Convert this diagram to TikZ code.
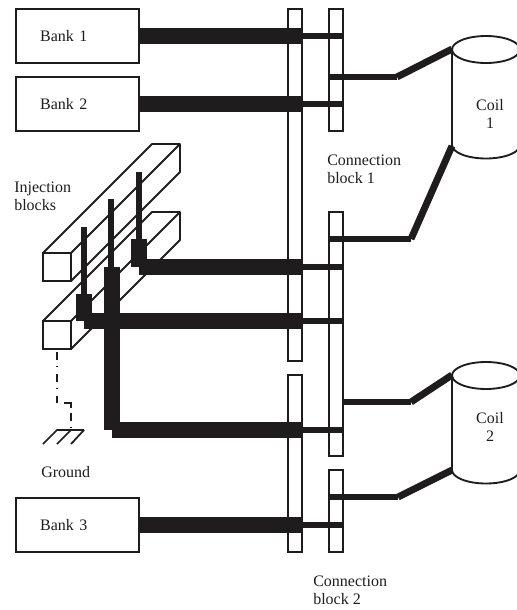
\documentclass[tikz,border=0pt]{standalone}
\usepackage{fontspec}
\setmainfont{Liberation Serif}
\definecolor{ink}{HTML}{1E1C1D}
\tikzset{
  bank/.style={draw=ink, line width=1.5pt, text=ink, text width=56pt, inner xsep=18pt, minimum height=40.5pt, align=left, outer sep=0pt, font=\fontsize{12}{13.4}\selectfont},
  lbl/.style={text=ink, align=left, inner sep=0pt, font=\fontsize{12}{13.4}\selectfont},
  outline/.style={draw=ink, line width=1.4pt},
  heavy/.style={ink, line width=12pt},
  light/.style={ink, line width=4.5pt},
  lead/.style={ink, line width=4.5pt, line join=round},
  pin/.style={ink, line width=4.5pt},
  pad/.style={ink, line width=12pt},
  earth/.style={ink, line width=1.3pt, dash pattern=on 6pt off 4.5pt on 1pt off 5pt},
  hatch/.style={ink, line width=1.3pt}
}
\begin{document}
\begin{tikzpicture}[x=0.75pt, y=-0.75pt]
  \useasboundingbox (0,0) rectangle (517,610);

  % connection bars
  \draw[outline] (288,9) rectangle (302,361);
  \draw[outline] (288,375) rectangle (302,552);
  \draw[outline] (329,9) rectangle (343,131);
  \draw[outline] (329,212) rectangle (343,456);
  \draw[outline] (329,470) rectangle (343,552);
  \coordinate (barA) at (302,0);
  \coordinate (barB) at (343,0);

  % banks
  \node[bank] (bank1) at (77.5,36) {Bank 1};
  \node[bank] (bank2) at (77.5,104) {Bank 2};
  \node[bank] (bank3) at (77.5,525) {Bank 3};
  \foreach \b in {bank1,bank2,bank3} {
    \draw[heavy] (\b.east) -- ++(163,0);
    \draw[light] (\b.east) ++(163,0) -- ++(41,0);
  }

  % injection blocks
  \foreach \y in {253,321} {
    \draw[outline] (43,\y) rectangle (71,\y+28);
    \draw[outline, line join=round] (43,\y) -- (152,\y-109) -- (180,\y-109) -- (180,\y-81) -- (71,\y+28);
    \draw[outline] (71,\y) -- (180,\y-109);
  }

  % pins and feeds
  \coordinate (feed1) at (84,321);
  \coordinate (feed2) at (111.5,430);
  \coordinate (feed3) at (139,267);
  \draw[pin] (84,227) -- (84,294);
  \draw[pin] (111,199) -- (111,267);
  \draw[pin] (139,172) -- (139,239);
  \draw[pad] (84,294) -- (feed1);
  \draw[pad] (111.5,267) -- (feed2);
  \draw[pad] (139,239) -- (feed3);
  \draw[heavy] (84,321) -- (84,321 -| barA);
  \draw[heavy] (139,267) -- (139,267 -| barA);
  \draw[heavy] (112,430) -- (112,430 -| barA);
  \draw[light] (302,267) -- (barB |- 0,267);
  \draw[light] (302,321) -- (barB |- 0,321);
  \draw[light] (302,430) -- (barB |- 0,430);

  % coils
  \draw[outline] (486,49.5) ellipse (34 and 13.5);
  \draw[outline] (452,49.5) -- (452,145);
  \draw[outline] (452,145) arc[start angle=180, end angle=0, x radius=34, y radius=13.5];
  \draw[outline] (486,375.5) ellipse (34 and 13.5);
  \draw[outline] (452,375.5) -- (452,470);
  \draw[outline] (452,470) arc[start angle=180, end angle=0, x radius=34, y radius=13.5];
  \coordinate (coil1top) at (452,49);
  \coordinate (coil1bot) at (452,146);
  \coordinate (coil2top) at (452,375);
  \coordinate (coil2bot) at (452,470);

  % leads to the coils
  \draw[lead] (329,77) -- (397,77);
  \draw[lead, line width=5.2pt] (397,77) -- (coil1top);
  \draw[lead] (329,239) -- (411,239);
  \draw[lead, line width=5.2pt] (411,239) -- (coil1bot);
  \draw[lead] (343,402) -- (411,402);
  \draw[lead, line width=5.2pt] (411,402) -- (coil2top);
  \draw[lead] (329,497) -- (398,497);
  \draw[lead, line width=5.2pt] (398,497) -- (coil2bot);

  % ground
  \draw[earth] (57,352) -- (57,403);
  \draw[hatch] (64,403) -- (71,403) -- (71,408);
  \draw[earth] (71,413) -- (71,430);
  \draw[hatch] (43,444) -- (57,430) -- (84,430);
  \draw[hatch] (57,444) -- (71,430);
  \draw[hatch] (71,444) -- (84,430);

  % labels
  \node[lbl, anchor=west] (injlbl) at (14,196) {Injection\\blocks};
  \node[lbl, anchor=west] (gndlbl) at (41,472) {Ground};
  \node[lbl, anchor=west] (cb1lbl) at (327,169) {Connection\\block 1};
  \node[lbl, anchor=west] (cb2lbl) at (313,590) {Connection\\block 2};
  \node[lbl, align=center] (coil1lbl) at (490,114) {Coil\\1};
  \node[lbl, align=center] (coil2lbl) at (490,427) {Coil\\2};
\end{tikzpicture}
\end{document}
